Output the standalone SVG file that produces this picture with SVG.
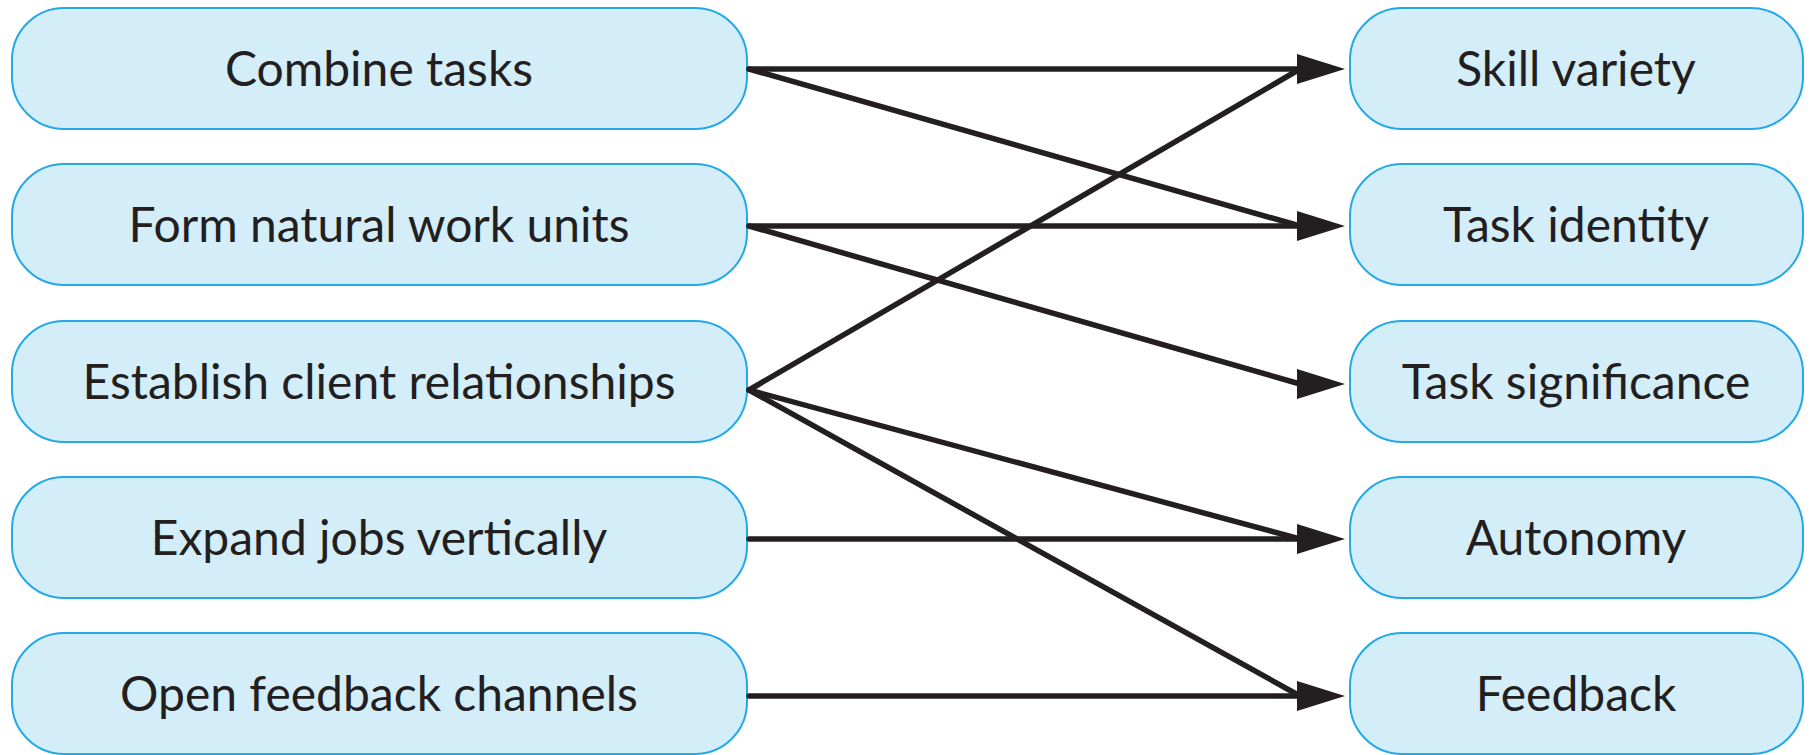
<svg xmlns="http://www.w3.org/2000/svg" width="1812" height="755" viewBox="0 0 1812 755">
<defs>
<style>
.box{fill:#d3edf9;stroke:#22a9e6;stroke-width:2}
.lbl{font-family:Lato,"Open Sans","Liberation Sans",sans-serif;font-size:48px;fill:#231f20;text-anchor:middle}
.ln{stroke:#231f20;stroke-width:5.5;fill:none;stroke-linecap:round}
</style>
<path id="ah" d="M0,0 L-48,-15 L-48,15 Z" fill="#231f20"/>
</defs>
<rect width="1812" height="755" fill="#ffffff"/>
<g id="n-combine"><rect class="box" x="12" y="8" width="735" height="121" rx="52"/><text class="lbl" x="379" y="86">Combine tasks</text></g>
<g id="n-form"><rect class="box" x="12" y="164" width="735" height="121" rx="52"/><text class="lbl" x="379" y="242">Form natural work units</text></g>
<g id="n-establish"><rect class="box" x="12" y="321" width="735" height="121" rx="52"/><text class="lbl" x="379" y="399">Establish client relationships</text></g>
<g id="n-expand"><rect class="box" x="12" y="477" width="735" height="121" rx="52"/><text class="lbl" x="379" y="555">Expand jobs vertically</text></g>
<g id="n-open"><rect class="box" x="12" y="633" width="735" height="121" rx="52"/><text class="lbl" x="379" y="711">Open feedback channels</text></g>
<g id="n-skill"><rect class="box" x="1350" y="8" width="453" height="121" rx="52"/><text class="lbl" x="1576" y="86">Skill variety</text></g>
<g id="n-identity"><rect class="box" x="1350" y="164" width="453" height="121" rx="52"/><text class="lbl" x="1576" y="242">Task identity</text></g>
<g id="n-significance"><rect class="box" x="1350" y="321" width="453" height="121" rx="52"/><text class="lbl" x="1576" y="399">Task significance</text></g>
<g id="n-autonomy"><rect class="box" x="1350" y="477" width="453" height="121" rx="52"/><text class="lbl" x="1576" y="555">Autonomy</text></g>
<g id="n-feedback"><rect class="box" x="1350" y="633" width="453" height="121" rx="52"/><text class="lbl" x="1576" y="711">Feedback</text></g>
<g id="connectors">
<line class="ln" x1="749" y1="69" x2="1300" y2="69"/>
<line class="ln" x1="749" y1="69" x2="1300" y2="226"/>
<line class="ln" x1="749" y1="226" x2="1300" y2="226"/>
<line class="ln" x1="749" y1="226" x2="1300" y2="384"/>
<line class="ln" x1="749" y1="390" x2="1300" y2="69"/>
<line class="ln" x1="749" y1="390" x2="1300" y2="539"/>
<line class="ln" x1="749" y1="390" x2="1300" y2="696"/>
<line class="ln" x1="749" y1="539" x2="1300" y2="539"/>
<line class="ln" x1="749" y1="696" x2="1300" y2="696"/>
<use href="#ah" x="1345" y="69"/>
<use href="#ah" x="1345" y="226"/>
<use href="#ah" x="1345" y="384"/>
<use href="#ah" x="1345" y="539"/>
<use href="#ah" x="1345" y="696"/>
</g>
</svg>
